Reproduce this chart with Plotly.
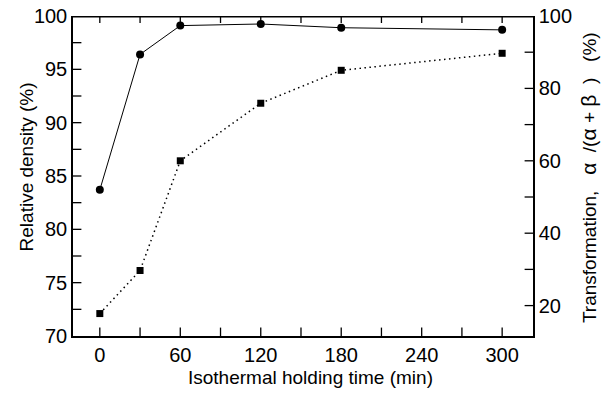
import plotly.graph_objects as go

# ---- data ----
time_min = [0, 30, 60, 120, 180, 300]
relative_density = [83.7, 96.4, 99.1, 99.25, 98.9, 98.7]
transformation = [17.8, 29.7, 60.0, 75.9, 85.0, 89.7]

# ---- axis ranges and ticks ----
x_range = [-20, 323]
y_range = [70, 100]
y2_range = [11.6, 100]
x_label_vals = [0, 60, 120, 180, 240, 300]
x_label_text = ["0", "60", "120", "180", "240", "300"]
x_tick_marks = [0, 30, 60, 90, 120, 150, 180, 210, 240, 270, 300]
y_label_vals = [70, 75, 80, 85, 90, 95, 100]
y_label_text = ["70", "75", "80", "85", "90", "95", "100"]
y_tick_marks = [72.5, 75, 77.5, 80, 82.5, 85, 87.5, 90, 92.5, 95, 97.5]
y2_label_vals = [20, 40, 60, 80, 100]
y2_label_text = ["20", "40", "60", "80", "100"]
y2_tick_marks = [20, 30, 40, 50, 60, 70, 80, 90]

x_title = "Isothermal holding time (min)"
y_title = "Relative density (%)"
g = "<span style='font-size:21px'>{}</span>"
nb = "\u00a0"
y2_title = ("Transformation," + nb * 3 + g.format("α") + nb * 2 + "/(" + g.format("α") + nb + "+" + nb
            + g.format("β") + nb * 2 + ")" + nb * 3 + "(%)")

fig = go.Figure()

# tick marks: short line markers centred on the frame edges, clipped to the plot area
tick_style = dict(size=12, color="#000000", line=dict(color="#000000", width=1.3))
fig.add_trace(go.Scatter(
    x=x_tick_marks, y=[y_range[0]] * len(x_tick_marks), mode="markers", yaxis="y",
    marker=dict(symbol="line-ns", **tick_style), cliponaxis=True,
    hoverinfo="skip", showlegend=False))
fig.add_trace(go.Scatter(
    x=x_tick_marks, y=[y_range[1]] * len(x_tick_marks), mode="markers", yaxis="y",
    marker=dict(symbol="line-ns", **dict(tick_style, size=10)), cliponaxis=True,
    hoverinfo="skip", showlegend=False))
fig.add_trace(go.Scatter(
    x=[x_range[0]] * len(y_tick_marks), y=y_tick_marks, mode="markers", yaxis="y",
    marker=dict(symbol="line-ew", **tick_style), cliponaxis=True,
    hoverinfo="skip", showlegend=False))
fig.add_trace(go.Scatter(
    x=[x_range[1]] * len(y2_tick_marks), y=y2_tick_marks, mode="markers", yaxis="y2",
    marker=dict(symbol="line-ew", **tick_style), cliponaxis=True,
    hoverinfo="skip", showlegend=False))
# top frame line
fig.add_trace(go.Scatter(
    x=x_range, y=[y_range[1], y_range[1]], mode="lines", yaxis="y",
    line=dict(color="#000000", width=3), cliponaxis=True,
    hoverinfo="skip", showlegend=False))

# data series
fig.add_trace(go.Scatter(
    x=time_min, y=relative_density, mode="lines+markers",
    line=dict(color="black", width=1),
    marker=dict(symbol="circle", size=8, color="black"),
    yaxis="y", showlegend=False))
fig.add_trace(go.Scatter(
    x=time_min, y=transformation, mode="lines+markers",
    line=dict(color="black", width=1.5, dash="1.5px,3.5px"),
    marker=dict(symbol="square", size=7, color="black"),
    yaxis="y2", showlegend=False))

font = dict(family="Liberation Sans, Arial, sans-serif", size=20, color="#000000")

fig.update_layout(
    width=604, height=405,
    margin=dict(l=73, r=71, t=16, b=69, autoexpand=False),
    plot_bgcolor="white",
    font=font,
    xaxis=dict(
        range=x_range, tickmode="array", tickvals=x_label_vals, ticktext=x_label_text,
        ticks="", showline=True, linecolor="#000000", linewidth=2,
        showgrid=False, zeroline=False, automargin=False,
    ),
    yaxis=dict(
        range=y_range, tickmode="array", tickvals=y_label_vals, ticktext=y_label_text,
        ticks="", showline=True, linecolor="#000000", linewidth=1.5,
        showgrid=False, zeroline=False, automargin=False,
    ),
    yaxis2=dict(
        range=y2_range, overlaying="y", side="right",
        tickmode="array", tickvals=y2_label_vals, ticktext=y2_label_text,
        ticks="", showline=True, linecolor="#000000", linewidth=1.5,
        showgrid=False, zeroline=False, automargin=False,
    ),
    annotations=[
        dict(text=x_title, xref="paper", yref="paper", x=0.517, y=-0.13,
             xanchor="center", yanchor="middle", showarrow=False, font=dict(size=19)),
        dict(text=y_title, xref="paper", yref="paper", x=-0.102, y=0.527, textangle=-90,
             xanchor="center", yanchor="middle", showarrow=False, font=dict(size=19)),
        dict(text=y2_title, xref="paper", yref="paper", x=1.122, y=0.494, textangle=-90,
             xanchor="center", yanchor="middle", showarrow=False, font=dict(size=19)),
    ],
)

fig.write_html("out.html")
